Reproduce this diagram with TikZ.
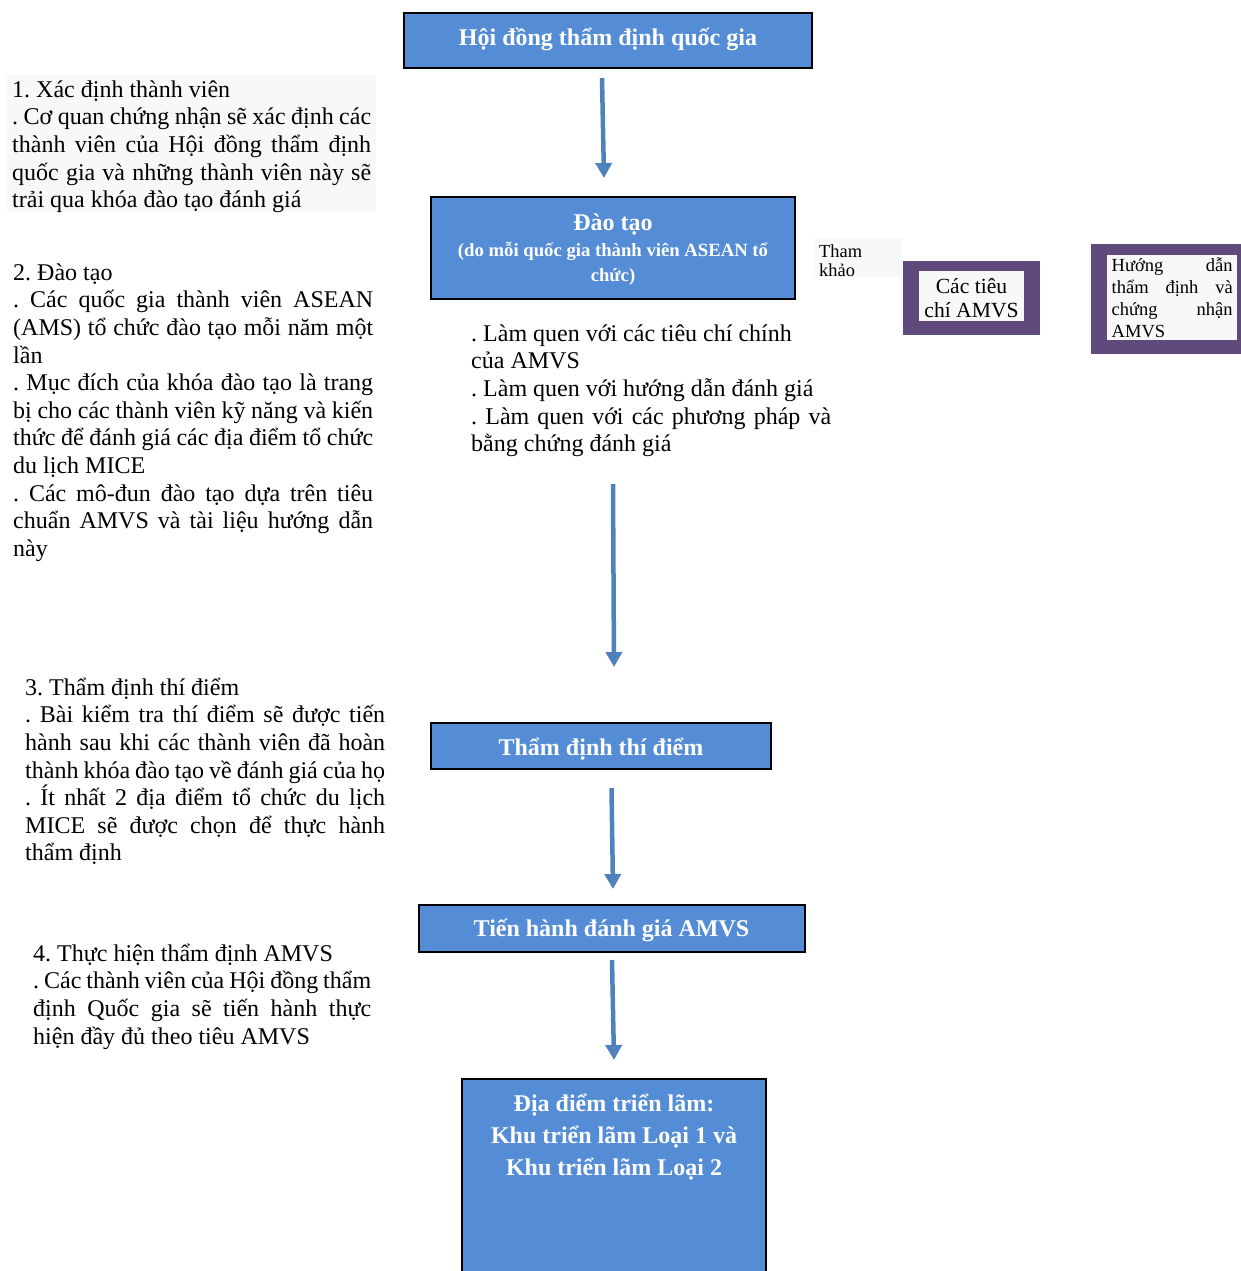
\documentclass[tikz,border=0pt]{standalone}
\usepackage{fontspec}
\setmainfont{Liberation Serif}
\usetikzlibrary{arrows.meta}
\definecolor{boxblue}{RGB}{84,141,213}
\definecolor{arrowblue}{RGB}{79,129,189}
\definecolor{pale}{RGB}{247,248,250}
\definecolor{purp}{RGB}{96,74,123}
\hyphenpenalty=10000
\exhyphenpenalty=10000
\frenchspacing
\newcommand{\parsetup}{\parindent=0pt\relax\tolerance=10000\relax\frenchspacing}
\tikzset{
  box/.style={draw=black, line width=1.3pt, fill=boxblue, inner sep=0pt, rectangle},
  purpbox/.style={fill=purp, inner sep=0pt, rectangle},
  palebox/.style={fill=pale, inner sep=0pt, rectangle},
  title/.style={text=white, inner sep=0pt, anchor=base, font={\bfseries\fontsize{24}{27.6}\selectfont}},
  body/.style={inner sep=0pt, anchor=north west, align=justify, font={\fontsize{24}{27.6}\selectfont\parsetup}},
  arr/.style={draw=arrowblue, line width=4.5pt, -{Triangle[width=16pt,length=15pt]}}
}
\begin{document}
\begin{tikzpicture}[x=1pt,y=-1pt]
\useasboundingbox (0,0) rectangle (1241,1271);
\clip (0,0) rectangle (1241,1271);
% boxes
\node[box, minimum width=408pt, minimum height=55pt] (b1) at (608,40.5) {};
\node[title] (b1t) at (608,45.5) {Hội đồng thẩm định quốc gia};
\node[box, minimum width=364pt, minimum height=102pt] (b2) at (613,248) {};
\node[title] (b2t) at (613,230) {Đào tạo};
\node[inner sep=0pt, anchor=north, align=center, text=white, font={\bfseries\fontsize{18.7}{25}\selectfont}] (b2s) at (613,239.2) {\strut(do mỗi quốc gia thành viên ASEAN tổ\\chức)};
\node[box, minimum width=340pt, minimum height=46pt] (b3) at (601,746) {};
\node[title] (b3t) at (601,755) {Thẩm định thí điểm};
\node[box, minimum width=386pt, minimum height=47pt] (b4) at (612,928.5) {};
\node[title] (b4t) at (611.5,936.7) {Tiến hành đánh giá AMVS};
\node[box, minimum width=304pt, minimum height=260pt] (b5) at (614,1209) {};
\node[inner sep=0pt, anchor=north, align=center, text=white, font={\bfseries\fontsize{24}{31.7}\selectfont}] (b5t) at (614,1089.5) {\strut Địa điểm triển lãm:\\Khu triển lãm Loại 1 và\\Khu triển lãm Loại 2};
% arrows
\coordinate (a1s) at (602,78);   \coordinate (a1e) at (604,178);
\coordinate (a2s) at (613,484);  \coordinate (a2e) at (614,667);
\coordinate (a3s) at (611.5,788); \coordinate (a3e) at (613,889);
\coordinate (a4s) at (612,960);  \coordinate (a4e) at (614,1060);
\draw[arr] (a1s) -- (a1e);
\draw[arr] (a2s) -- (a2e);
\draw[arr] (a3s) -- (a3e);
\draw[arr] (a4s) -- (a4e);
% left column
\node[palebox, minimum width=369pt, minimum height=137pt] (bg1) at (191.5,143.5) {};
\node[body, text width=359pt] (t1) at (12,77.7) {\strut 1. Xác định thành viên\\
. Cơ quan chứng nhận sẽ xác định các\linebreak
thành viên của Hội đồng thẩm định\linebreak
quốc gia và những thành viên này sẽ\linebreak
trải qua khóa đào tạo đánh giá};
\node[body, text width=360pt] (t2) at (13,260.7) {\strut 2. Đào tạo\\
. Các quốc gia thành viên ASEAN\linebreak
(AMS) tổ chức đào tạo mỗi năm một\linebreak
lần\\
. Mục đích của khóa đào tạo là trang\linebreak
bị cho các thành viên kỹ năng và kiến\linebreak
thức để đánh giá các địa điểm tổ chức\linebreak
du lịch MICE\\
. Các mô-đun đào tạo dựa trên tiêu\linebreak
chuẩn AMVS và tài liệu hướng dẫn\linebreak
này};
\node[body, text width=360pt] (t3) at (25,675.7) {\strut 3. Thẩm định thí điểm\\
. Bài kiểm tra thí điểm sẽ được tiến\linebreak
hành sau khi các thành viên đã hoàn\linebreak
thành khóa đào tạo về đánh giá của họ\linebreak
. Ít nhất 2 địa điểm tổ chức du lịch\linebreak
MICE sẽ được chọn để thực hành\linebreak
thẩm định};
\node[body, text width=338pt] (t4) at (33,941.7) {\strut 4. Thực hiện thẩm định AMVS\\
. Các thành viên của Hội đồng thẩm\linebreak
định Quốc gia sẽ tiến hành thực\linebreak
hiện đầy đủ theo tiêu AMVS};
% middle text
\node[body, text width=360pt] (tm) at (471,321.7) {\strut . Làm quen với các tiêu chí chính\\
của AMVS\\
. Làm quen với hướng dẫn đánh giá\\
. Làm quen với các phương pháp và\linebreak
bằng chứng đánh giá};
% right side
\node[palebox, minimum width=87pt, minimum height=39pt] (tkbg) at (858.5,257.5) {};
\node[inner sep=0pt, anchor=north west, align=left, font={\fontsize{18.4}{19}\selectfont}] (tk) at (819,243.7) {\strut Tham\\khảo};
\node[purpbox, minimum width=137pt, minimum height=74pt] (p1) at (971.5,298) {};
\node[palebox, minimum width=105pt, minimum height=50pt] (p1i) at (971.5,296) {};
\node[inner sep=0pt, anchor=north, align=center, font={\fontsize{21.6}{24}\selectfont}] (p1t) at (971.5,276.2) {\strut Các tiêu\\chí AMVS};
\node[purpbox, minimum width=152pt, minimum height=110pt] (p2) at (1167,299) {};
\node[palebox, minimum width=130pt, minimum height=85pt] (p2i) at (1172,297.5) {};
\node[inner sep=0pt, anchor=north west, align=justify, text width=121pt, font={\fontsize{18.5}{22}\selectfont\parsetup}] (p2t) at (1111.5,256.3) {\strut Hướng dẫn\linebreak
thẩm định và\linebreak
chứng nhận\linebreak
AMVS};
\end{tikzpicture}
\end{document}
